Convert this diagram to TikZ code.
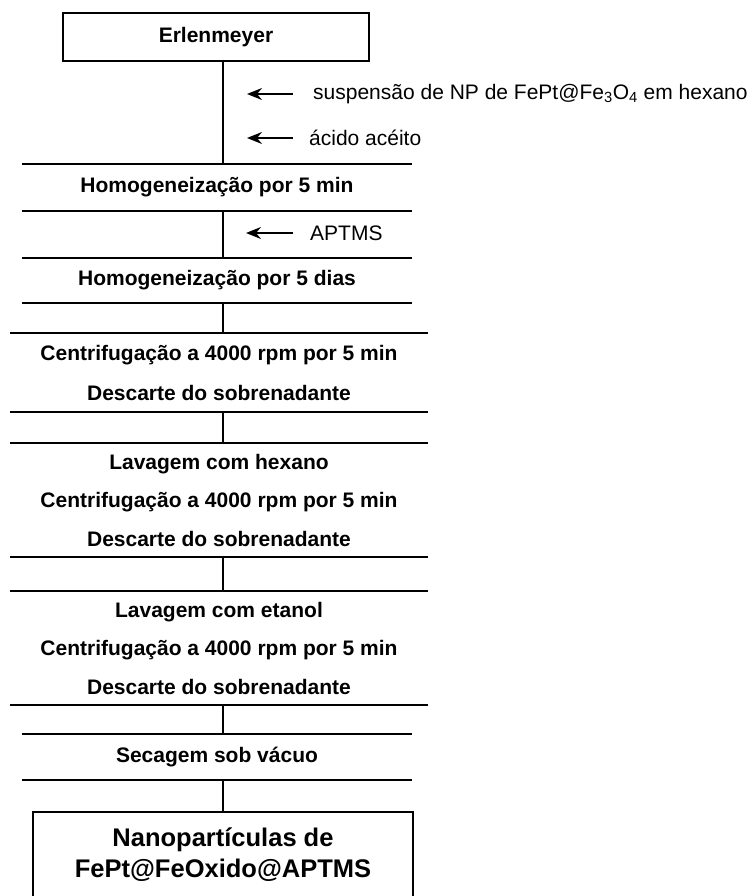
\documentclass[tikz,border=0pt]{standalone}
\usepackage{fontspec}
\setmainfont{Liberation Sans}
\usetikzlibrary{arrows.meta}
\begin{document}
\begin{tikzpicture}[x=1pt,y=-1pt,
  rule/.style={line width=1.8pt},
  band/.style={inner sep=0pt, align=center, font=\bfseries\fontsize{21}{38.5}\selectfont},
  boxnode/.style={draw, rule, inner sep=0pt, align=center},
  feed/.style={inner sep=0pt, anchor=west, font=\fontsize{21}{25}\selectfont},
  feedarrow/.style={rule, -{Stealth[length=15pt,width=12pt,inset=5pt]}, shorten <=20pt}
]
\path[use as bounding box, fill=white] (0,0) rectangle (755,896);
\clip (0,0) rectangle (755,896);
\coordinate (spine) at (223,0);

% start box
\node[boxnode, minimum width=306pt, minimum height=48pt, font=\bfseries\fontsize{21}{25}\selectfont] (erl) at (216,37) {Erlenmeyer};

% bands
\node[band, minimum width=390pt, minimum height=47pt] (b1) at (217,187.5) {Homogeneização por 5 min};
\node[band, minimum width=390pt, minimum height=45pt] (b2) at (217,280.5) {Homogeneização por 5 dias};
\node[band, minimum width=418pt, minimum height=79pt, font=\bfseries\fontsize{21}{40}\selectfont] (b3) at (219,372.5) {Centrifugação a 4000 rpm por 5 min\\Descarte do sobrenadante};
\node[band, minimum width=418pt, minimum height=114pt] (b4) at (219,500) {Lavagem com hexano\\Centrifugação a 4000 rpm por 5 min\\Descarte do sobrenadante};
\node[band, minimum width=418pt, minimum height=114pt] (b5) at (219,648) {Lavagem com etanol\\Centrifugação a 4000 rpm por 5 min\\Descarte do sobrenadante};
\node[band, minimum width=390pt, minimum height=46pt] (b6) at (217,757) {Secagem sob vácuo};

\foreach \b in {b1,b2,b3,b4,b5,b6}{
  \draw[rule] (\b.north west) -- (\b.north east);
  \draw[rule] (\b.south west) -- (\b.south east);
}

% final box (bottom edge lies beyond the picture)
\node[boxnode, minimum width=380pt, minimum height=100pt,
  label={[name=ft, font=\bfseries\fontsize{25.5}{31}\selectfont, align=center, yshift=7.5pt]center:Nanopartículas de\\FePt@FeOxido@APTMS}] (final) at (223,862) {};

% spine connectors
\draw[rule] (erl.south -| spine) -- (b1.north -| spine);
\draw[rule] (b1.south -| spine) -- (b2.north -| spine);
\draw[rule] (b2.south -| spine) -- (b3.north -| spine);
\draw[rule] (b3.south -| spine) -- (b4.north -| spine);
\draw[rule] (b4.south -| spine) -- (b5.north -| spine);
\draw[rule] (b5.south -| spine) -- (b6.north -| spine);
\draw[rule] (b6.south -| spine) -- (final.north -| spine);

% feeds
\node[feed] (f1) at (313,94) {suspensão de NP de FePt@Fe\textsubscript{3}O\textsubscript{4} em hexano};
\node[feed] (f2) at (309,138) {ácido acéito};
\node[feed] (f3) at (310,233) {APTMS};
\coordinate (h1) at (247,94);
\coordinate (h2) at (247,138);
\coordinate (h3) at (246,233);
\draw[feedarrow] (f1.west) -- (h1);
\draw[feedarrow, shorten <=16pt] (f2.west) -- (h2);
\draw[feedarrow, shorten <=17pt] (f3.west) -- (h3);
\end{tikzpicture}
\end{document}
